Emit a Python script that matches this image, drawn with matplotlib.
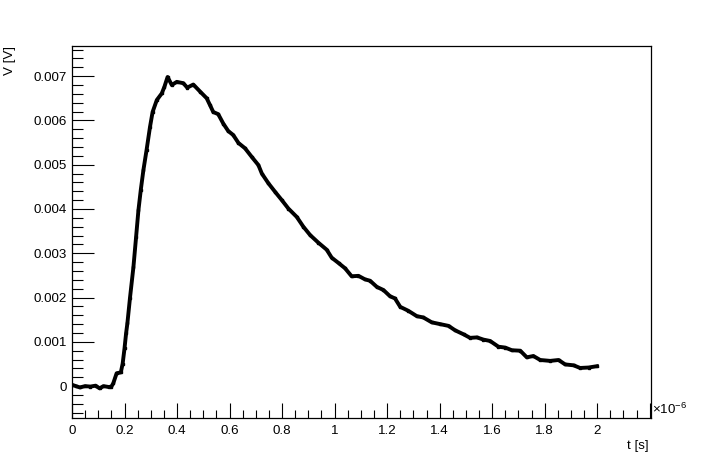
import numpy as np
import matplotlib.pyplot as plt
from matplotlib.ticker import MultipleLocator

# time in units of 1e-6 s, voltage in mV
t_us = [0.000, 0.015, 0.030, 0.050, 0.070, 0.090, 0.105, 0.120, 0.140, 0.150,
        0.157, 0.170, 0.186, 0.193, 0.200, 0.206, 0.211, 0.221, 0.234, 0.244,
        0.253, 0.262, 0.272, 0.284, 0.297, 0.307, 0.323, 0.342, 0.352, 0.364,
        0.380, 0.399, 0.424, 0.439, 0.462, 0.488, 0.513, 0.526, 0.538, 0.557,
        0.576, 0.595, 0.614, 0.634, 0.659, 0.684, 0.710, 0.723, 0.748, 0.773,
        0.799, 0.824, 0.856, 0.881, 0.907, 0.938, 0.970, 0.989, 1.015, 1.040,
        1.065, 1.091, 1.116, 1.135, 1.161, 1.186, 1.211, 1.230, 1.250, 1.281,
        1.313, 1.338, 1.370, 1.402, 1.434, 1.459, 1.491, 1.516, 1.542, 1.567,
        1.592, 1.624, 1.650, 1.675, 1.707, 1.732, 1.757, 1.783, 1.821, 1.853,
        1.878, 1.910, 1.935, 1.967, 1.999]
v_mV = [0.03, 0.00, -0.03, 0.00, -0.01, 0.01, -0.05, 0.00, -0.02, -0.01,
        0.06, 0.29, 0.31, 0.51, 0.85, 1.19, 1.42, 2.00, 2.69, 3.36,
        3.97, 4.43, 4.88, 5.33, 5.85, 6.19, 6.46, 6.61, 6.76, 6.98,
        6.80, 6.87, 6.84, 6.74, 6.81, 6.65, 6.50, 6.34, 6.19, 6.14,
        5.93, 5.76, 5.67, 5.49, 5.37, 5.18, 4.99, 4.80, 4.58, 4.39,
        4.20, 4.01, 3.82, 3.60, 3.41, 3.24, 3.08, 2.90, 2.78, 2.66,
        2.48, 2.49, 2.41, 2.38, 2.24, 2.17, 2.03, 1.98, 1.79, 1.70,
        1.58, 1.55, 1.44, 1.40, 1.36, 1.26, 1.17, 1.09, 1.10, 1.05,
        1.02, 0.89, 0.87, 0.81, 0.80, 0.65, 0.68, 0.59, 0.57, 0.59,
        0.49, 0.47, 0.41, 0.42, 0.45]

plt.rcParams['font.family'] = ['Liberation Sans', 'DejaVu Sans']
plt.rcParams['mathtext.fontset'] = 'custom'
plt.rcParams['mathtext.rm'] = 'Liberation Sans'
plt.rcParams['mathtext.it'] = 'Liberation Sans'

fig = plt.figure(figsize=(7.22, 4.67), dpi=100)
ax = fig.add_axes([0.0997, 0.1049, 0.8020, 0.7966])

v = np.array(v_mV) * 1e-3
ax.plot(t_us, v, color='black', lw=2.8, marker='s', ms=1.8, solid_joinstyle='round')

ax.set_xlim(0, 2.205)
ax.set_ylim(-0.00072, 0.00768)

ax.xaxis.set_major_locator(MultipleLocator(0.2))
ax.xaxis.set_minor_locator(MultipleLocator(0.05))
ax.yaxis.set_major_locator(MultipleLocator(0.001))
ax.yaxis.set_minor_locator(MultipleLocator(0.0002))
ax.xaxis.set_major_formatter(plt.FuncFormatter(lambda x, p: ('%g' % round(x, 3)) if x <= 2.0001 else ''))
ax.yaxis.set_major_formatter(plt.FuncFormatter(lambda y, p: ('%g' % round(y, 4)) if abs(y) > 1e-9 else '0'))

ax.tick_params(axis='both', which='both', direction='in', top=False, right=False,
               labelsize=9.6, colors='black', width=0.8)
ax.tick_params(axis='x', which='major', length=11, pad=5)
ax.tick_params(axis='x', which='minor', length=6)
ax.tick_params(axis='y', which='major', length=16, pad=4)
ax.tick_params(axis='y', which='minor', length=8)
for s in ax.spines.values():
    s.set_linewidth(0.9)

fig.text(0.014, 0.901, 'V [V]', rotation=90, ha='center', va='top', fontsize=9.6)
fig.text(0.898, 0.033, 't [s]', ha='right', va='bottom', fontsize=9.6)
fig.text(0.903, 0.106, r'$\times10^{-6}$', ha='left', va='bottom', fontsize=9.6)

fig.savefig('out.png', dpi=100)
